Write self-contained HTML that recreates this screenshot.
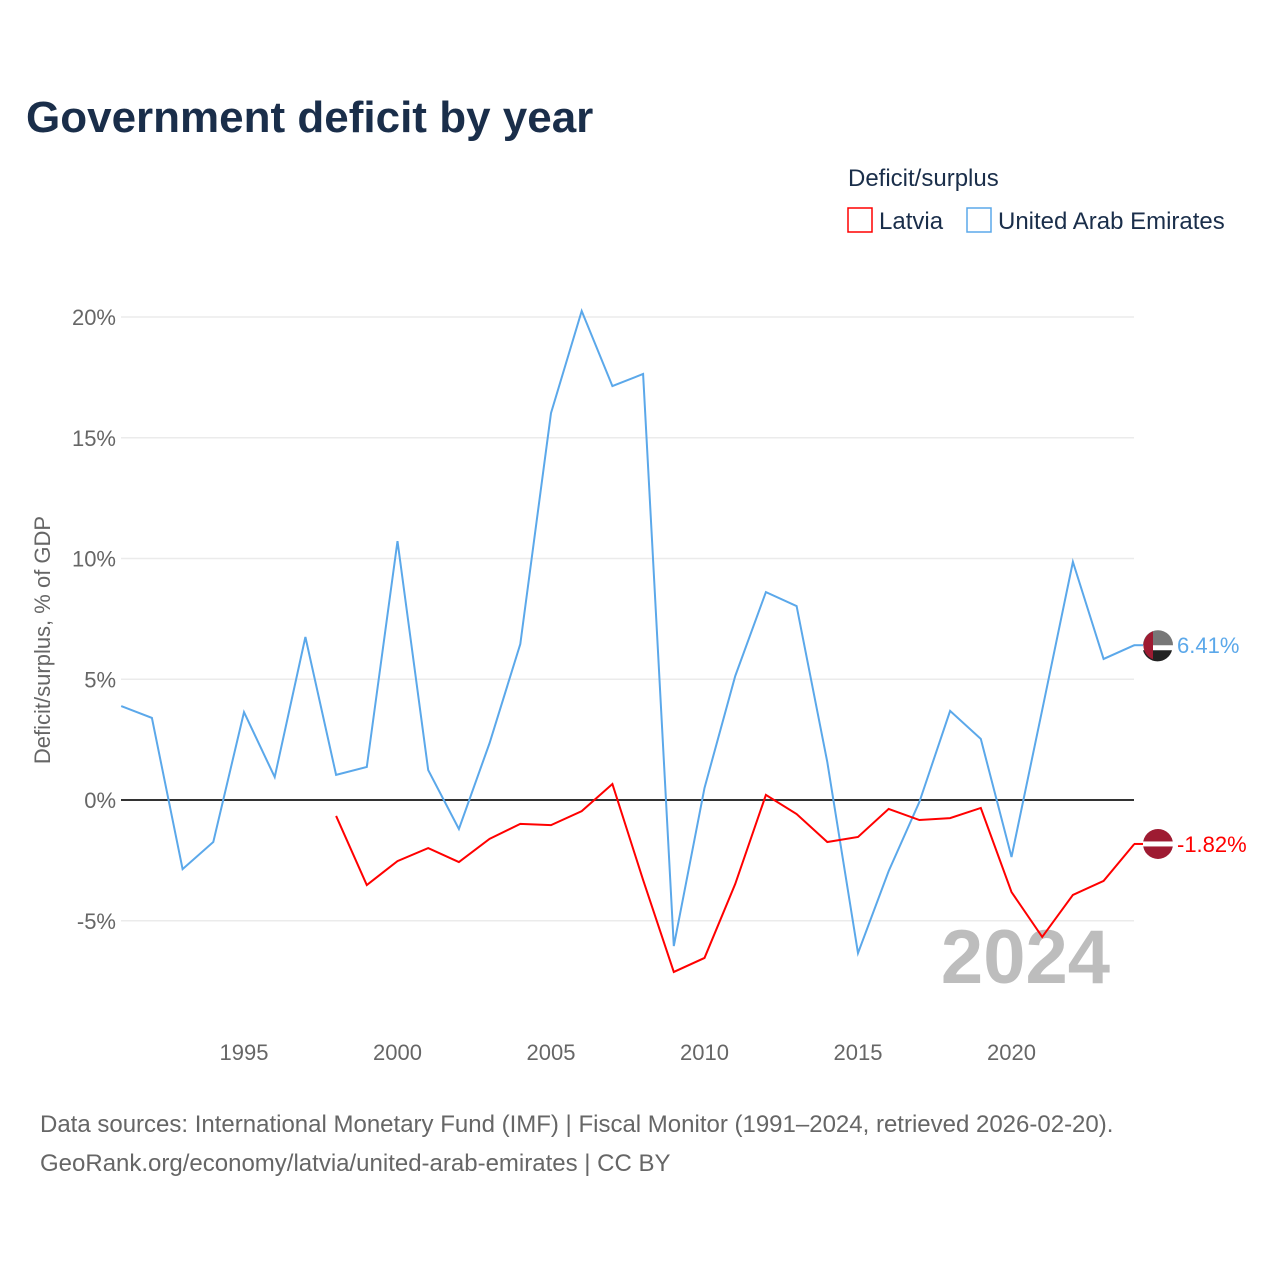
<!DOCTYPE html>
<html><head><meta charset="utf-8"><style>
body{margin:0;background:#fff;font-family:"Liberation Sans",sans-serif}
svg text{font-family:"Liberation Sans",sans-serif}
</style></head><body>
<svg id="c" width="1280" height="1280">
<text x="26" y="132" font-size="44" font-weight="bold" fill="#1a2e4a">Government deficit by year</text>
<text x="848" y="186" font-size="24" fill="#1a2e4a">Deficit/surplus</text>
<g><rect x="848" y="208" width="24" height="24" fill="none" stroke="#ff0000" stroke-width="1.5"/><text x="879" y="229" font-size="24" fill="#1a2e4a">Latvia</text></g>
<g><rect x="967" y="208" width="24" height="24" fill="none" stroke="#5ba8ea" stroke-width="1.5"/><text x="998" y="229" font-size="24" fill="#1a2e4a">United Arab Emirates</text></g>
<text transform="translate(50,640) rotate(-90)" text-anchor="middle" font-size="22" fill="#666">Deficit/surplus, % of GDP</text>
<text x="1110" y="983" text-anchor="end" font-size="76" font-weight="bold" fill="#bdbdbd">2024</text>
<text x="40" y="1132" font-size="24" fill="#666">Data sources: International Monetary Fund (IMF) | Fiscal Monitor (1991–2024, retrieved 2026-02-20).</text>
<text x="40" y="1171" font-size="24" fill="#666">GeoRank.org/economy/latvia/united-arab-emirates | CC BY</text>
<g id="plot"></g>
</svg>
<script>
const yTicks=[-5,0,5,10,15,20];
const xTicks=[1995,2000,2005,2010,2015,2020];
const uaeYears=[];for(let y=1991;y<=2024;y++)uaeYears.push(y);
const uaeValues=[3.89,3.4,-2.86,-1.74,3.64,0.95,6.75,1.04,1.37,10.72,1.24,-1.2,2.36,6.46,16.02,20.25,17.14,17.64,-6.05,0.5,5.13,8.61,8.03,1.57,-6.34,-2.94,-0.08,3.69,2.53,-2.36,3.73,9.86,5.84,6.41];
const lvYears=[];for(let y=1998;y<=2024;y++)lvYears.push(y);
const lvValues=[-0.66,-3.52,-2.53,-1.99,-2.57,-1.61,-0.99,-1.04,-0.46,0.66,-3.31,-7.12,-6.54,-3.48,0.21,-0.58,-1.74,-1.53,-0.37,-0.83,-0.75,-0.33,-3.81,-5.67,-3.93,-3.35,-1.82];
const X=y=>121.2+(y-1991)*30.7;
const Y=v=>800-v*24.15;
const ns="http://www.w3.org/2000/svg";
const g=document.getElementById('plot');
function mk(t,a){const e=document.createElementNS(ns,t);for(const k in a)e.setAttribute(k,a[k]);g.appendChild(e);return e;}
yTicks.forEach(v=>{
 const l=mk('line',{x1:121,x2:1134,y1:Y(v),y2:Y(v),stroke:v===0?'#333':'#ebebeb','stroke-width':v===0?2:1.5});
 
 
 const t=mk('text',{x:116,y:Y(v)+8,'text-anchor':'end','font-size':22,fill:'#666'});
 t.textContent=v+'%';
 
 
});
xTicks.forEach(y=>{
 const t=mk('text',{x:X(y),y:1060,'text-anchor':'middle','font-size':22,fill:'#666'});
 t.textContent=y;
 
 
});
function line(xs,vs,c,name){
 const p=mk('polyline',{points:xs.map((x,i)=>X(x)+','+Y(vs[i])).join(' '),fill:'none',stroke:c,'stroke-width':2});
 
 
}
line(uaeYears,uaeValues,'#5ba8ea','uae-line');
line(lvYears,lvValues,'#ff0000','latvia-line');
function end(v,c,name,flag){
 const y=Y(v);
 const ln=mk('line',{x1:1134,x2:1150,y1:y,y2:y,stroke:c,'stroke-width':2});
 
 
 const cx=1158;
 if(flag==='lv'){
  mk('circle',{cx:cx,cy:y,r:15,fill:'#9e1b32'});
  const w=mk('rect',{x:cx-15,y:y-2.5,width:30,height:5,fill:'#fff'});
 }else{
  mk('circle',{cx:cx,cy:y,r:15,fill:'#fff'});
  mk('path',{d:`M${cx-15},${y} A15,15 0 0 1 ${cx+15},${y} L${cx-15},${y}Z`,fill:'#777'});
  mk('path',{d:`M${cx-15},${y+5} L${cx+14},${y+5} A15,15 0 0 1 ${cx-15},${y+5}Z`,fill:'#222'});
  mk('path',{d:`M${cx-5},${y-14} A15,15 0 0 0 ${cx-5},${y+14}Z`,fill:'#9e1b32'});
 }
 const t=mk('text',{x:1177,y:y+8,'font-size':22,fill:c});
 t.textContent=(v>0?'':'')+v.toFixed(2)+'%';
 
 
}
end(uaeValues[uaeValues.length-1],'#5ba8ea','uae','ae');
end(lvValues[lvValues.length-1],'#ff0000','latvia','lv');
</script>
</body></html>
